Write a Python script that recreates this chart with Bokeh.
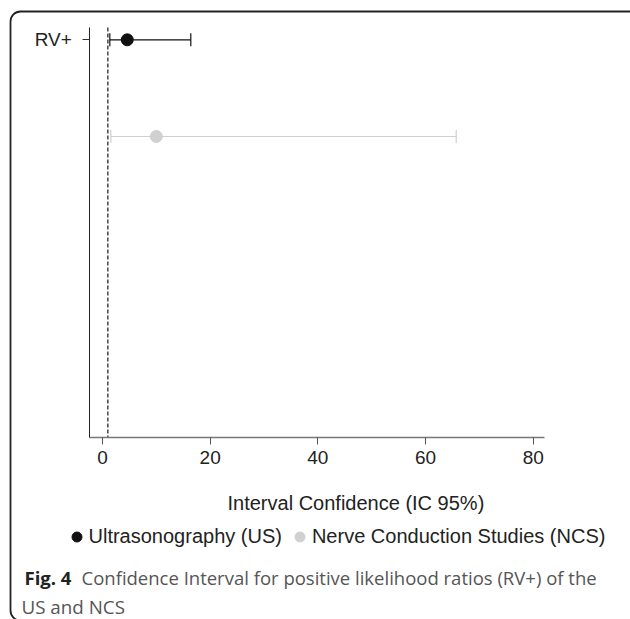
from bokeh.plotting import figure
from bokeh.models import (ColumnDataSource, Range1d, FixedTicker, Whisker, TeeHead,
                          Label, Legend, LegendItem, BoxAnnotation, LinearAxis)
from bokeh.embed import file_html
from bokeh.resources import INLINE

# ---- data ----
series = ["Ultrasonography (US)", "Nerve Conduction Studies (NCS)"]
rows = [1, 2]
estimate = [4.6, 10.0]
ci_low = [1.36, 1.55]
ci_high = [16.4, 65.7]
colors = ["#111111", "#d0d0d0"]
x_ticks = [0, 20, 40, 60, 80]
y_ticks = [1]
y_tick_labels = ["RV+"]
reference_value = 1
x_title = "Interval Confidence (IC 95%)"
caption_bold = "Fig. 4"
caption_line1 = "Confidence Interval for positive likelihood ratios (RV+) of the"
caption_line2 = "US and NCS"

# axis extents (data units)
x_axis_span = (-2.36, 82.15)
y_axis_span = (0.873, 5.113)

FONT = "Liberation Sans"
CAP_FONT = "Open Sans"
W, H = 630, 619

p = figure(width=W, height=H, output_backend="svg", toolbar_location=None,
           x_range=Range1d(-18.945, 98.07), y_range=Range1d(6.995, 0.5936),
           min_border=0, x_axis_location=None, y_axis_location=None)
p.outline_line_color = None
p.xgrid.visible = False
p.ygrid.visible = False
p.background_fill_color = "white"
p.border_fill_color = "white"

xa = LinearAxis(fixed_location=y_axis_span[1], bounds=x_axis_span,
                ticker=FixedTicker(ticks=x_ticks))
xa.major_label_text_font = FONT
xa.major_label_text_font_size = "19px"
xa.major_label_text_color = "#222222"
xa.axis_line_color = "#777777"
xa.axis_line_width = 1.3
xa.major_tick_line_color = "#555555"
xa.major_tick_out = 7
xa.major_tick_in = 0
xa.minor_tick_line_color = None
xa.major_label_standoff = 6
p.add_layout(xa, "below")

ya = LinearAxis(fixed_location=x_axis_span[0], bounds=y_axis_span,
                ticker=FixedTicker(ticks=y_ticks))
ya.major_label_overrides = {t: l for t, l in zip(y_ticks, y_tick_labels)}
ya.major_label_text_font = FONT
ya.major_label_text_font_size = "19px"
ya.major_label_text_color = "#222222"
ya.axis_line_color = "#222222"
ya.axis_line_width = 1
ya.major_tick_line_color = "#333333"
ya.major_tick_out = 7
ya.major_tick_in = 0
ya.minor_tick_line_color = None
ya.major_label_standoff = 11
p.add_layout(ya, "left")

# reference line (dashed, at RV = 1)
p.segment(x0=[reference_value], x1=[reference_value],
          y0=[y_axis_span[0]], y1=[y_axis_span[1]],
          line_color="black", line_width=1.1, line_dash="4 2")

# error bars and points
items = []
for i, name in enumerate(series):
    src = ColumnDataSource(dict(row=[rows[i]], est=[estimate[i]],
                                lo=[ci_low[i]], hi=[ci_high[i]]))
    w = Whisker(base="row", lower="lo", upper="hi", dimension="width", source=src,
                line_color=colors[i], line_width=1.2,
                lower_head=TeeHead(size=13, line_color=colors[i], line_width=1.2),
                upper_head=TeeHead(size=13, line_color=colors[i], line_width=1.2))
    p.add_layout(w)
    r = p.scatter(x="est", y="row", source=src, size=12, fill_color=colors[i],
                  line_color=colors[i])
    items.append(LegendItem(label=name, renderers=[r]))

legend = Legend(items=items, orientation="horizontal", location=(63.5, H - 548.5),
                glyph_width=25, glyph_height=25, label_standoff=0, spacing=5,
                padding=0, margin=0, label_text_font=FONT,
                label_text_font_size="20px", label_text_color="#222222",
                border_line_alpha=0, background_fill_alpha=0)
p.add_layout(legend, "center")

# axis title
p.add_layout(Label(x=227, y=H - 502.7, x_units="screen", y_units="screen", text=x_title,
                   text_font=FONT, text_font_size="20px", text_color="#222222",
                   text_baseline="alphabetic"))

# caption
p.add_layout(Label(x=24, y=H - 577, x_units="screen", y_units="screen", text=caption_bold,
                   text_font=CAP_FONT, text_font_size="18.5px", text_font_style="bold",
                   text_color="#222222", text_baseline="alphabetic"))
p.add_layout(Label(x=81, y=H - 577, x_units="screen", y_units="screen", text=caption_line1,
                   text_font=CAP_FONT, text_font_size="18.5px",
                   text_color="#555555", text_baseline="alphabetic"))
p.add_layout(Label(x=21, y=H - 606.5, x_units="screen", y_units="screen", text=caption_line2,
                   text_font=CAP_FONT, text_font_size="18.8px",
                   text_color="#555555", text_baseline="alphabetic"))

# rounded outer frame (right and bottom edges fall just outside the picture)
p.add_layout(BoxAnnotation(left=10, right=W + 50, top=H - 11, bottom=H - 620,
                           left_units="screen", right_units="screen",
                           top_units="screen", bottom_units="screen",
                           fill_alpha=0, line_color="#222222", line_alpha=1,
                           line_width=1.8, border_radius=10, level="overlay"))

open("out.html", "w").write(file_html(p, INLINE))
